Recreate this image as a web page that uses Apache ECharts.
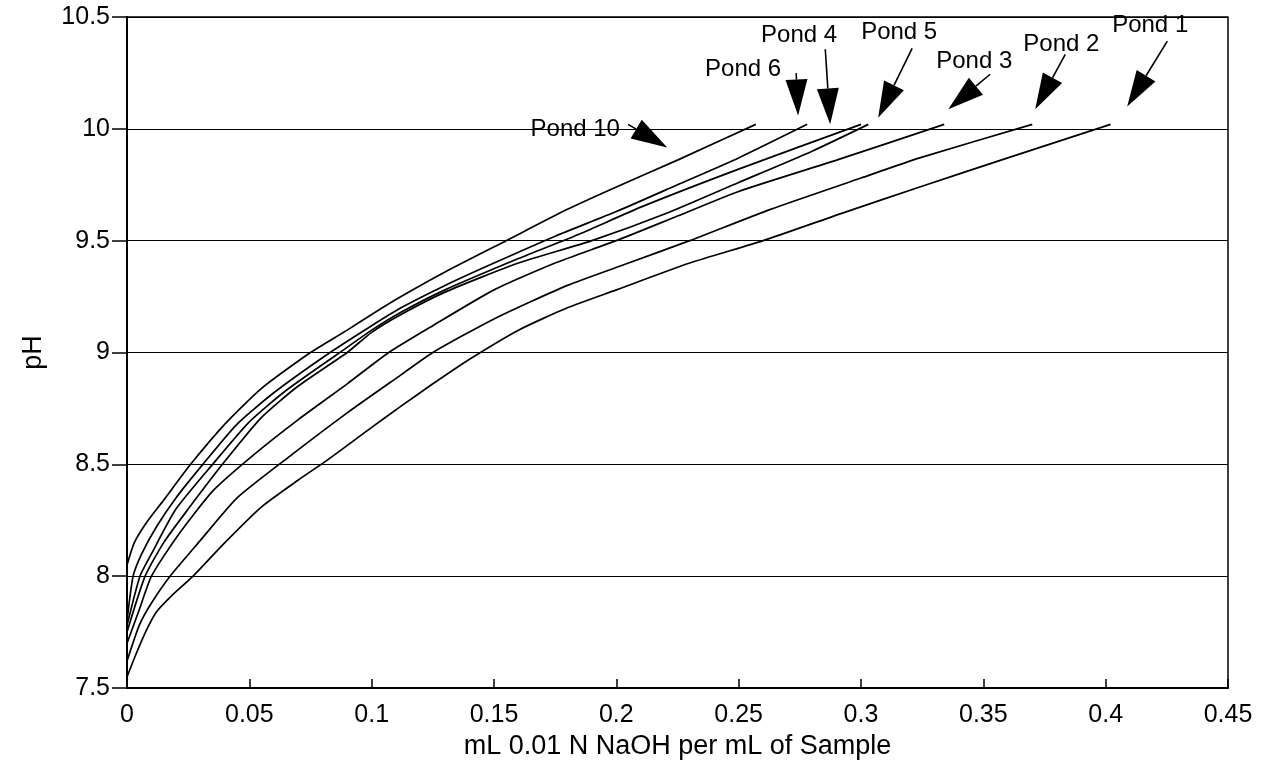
<!DOCTYPE html>
<html>
<head>
<meta charset="utf-8">
<script src="https://cdn.jsdelivr.net/npm/echarts@6/dist/echarts.min.js"></script>
<style>
  html, body { margin: 0; padding: 0; background: #fff; }
  #chart { width: 1277px; height: 760px; }
</style>
</head>
<body>
<div id="chart"></div>
<script>
// titration curves: [mL NaOH per mL, pH]
const pond10 = [[0, 8.05], [0.003, 8.15], [0.008, 8.24], [0.015, 8.34], [0.026, 8.5], [0.04, 8.68], [0.055, 8.84], [0.075, 9.0], [0.09, 9.1], [0.1, 9.17], [0.112, 9.25], [0.13, 9.36], [0.155, 9.5], [0.18, 9.64], [0.2, 9.74], [0.225, 9.86], [0.257, 10.02]];
const pond6 = [[0, 7.8], [0.0025, 8.0], [0.006, 8.1], [0.012, 8.22], [0.02, 8.35], [0.031, 8.5], [0.045, 8.68], [0.06, 8.82], [0.083, 9.0], [0.1, 9.12], [0.112, 9.2], [0.13, 9.3], [0.15, 9.4], [0.175, 9.52], [0.2, 9.63], [0.225, 9.75], [0.25, 9.87], [0.278, 10.02]];
const pond4 = [[0, 7.78], [0.0053, 8.0], [0.01, 8.1], [0.02, 8.3], [0.035, 8.5], [0.05, 8.69], [0.065, 8.83], [0.087, 9.0], [0.1, 9.1], [0.112, 9.18], [0.13, 9.28], [0.16, 9.42], [0.185, 9.53], [0.21, 9.65], [0.25, 9.82], [0.3, 10.02]];
const pond5 = [[0, 7.75], [0.0074, 8.0], [0.015, 8.15], [0.025, 8.3], [0.039, 8.5], [0.055, 8.71], [0.07, 8.85], [0.09, 9.0], [0.1, 9.09], [0.112, 9.17], [0.13, 9.27], [0.16, 9.4], [0.19, 9.5], [0.22, 9.62], [0.25, 9.76], [0.28, 9.9], [0.303, 10.02]];
const pond3 = [[0, 7.7], [0.005, 7.85], [0.01, 8.0], [0.02, 8.17], [0.035, 8.38], [0.0515, 8.54], [0.07, 8.7], [0.09, 8.86], [0.107, 9.0], [0.125, 9.12], [0.15, 9.28], [0.175, 9.4], [0.2, 9.5], [0.225, 9.61], [0.25, 9.72], [0.29, 9.86], [0.334, 10.02]];
const pond2 = [[0, 7.62], [0.005, 7.78], [0.01, 7.88], [0.0176, 8.0], [0.03, 8.16], [0.045, 8.35], [0.0658, 8.53], [0.09, 8.73], [0.112, 8.9], [0.125, 9.0], [0.15, 9.15], [0.18, 9.3], [0.205, 9.4], [0.23, 9.5], [0.263, 9.64], [0.3, 9.78], [0.324, 9.87], [0.37, 10.02]];
const pond1 = [[0, 7.55], [0.004, 7.66], [0.008, 7.76], [0.012, 7.84], [0.018, 7.91], [0.027, 8.0], [0.04, 8.15], [0.055, 8.31], [0.07, 8.43], [0.082, 8.52], [0.1, 8.665], [0.112, 8.76], [0.125, 8.86], [0.14, 8.97], [0.16, 9.1], [0.18, 9.2], [0.2, 9.28], [0.23, 9.4], [0.26, 9.5], [0.2915, 9.62], [0.324, 9.74], [0.36, 9.87], [0.402, 10.02]];

const seriesNames = ["Pond 10", "Pond 6", "Pond 4", "Pond 5", "Pond 3", "Pond 2", "Pond 1"];
const seriesData = [pond10, pond6, pond4, pond5, pond3, pond2, pond1];

// callouts: label centre, arrow tail, arrow tip (data coords)
const calloutText = ["Pond 1", "Pond 2", "Pond 3", "Pond 5", "Pond 4", "Pond 6", "Pond 10"];
const calloutLabel = [[0.4182, 10.463], [0.3819, 10.378], [0.3463, 10.302], [0.3156, 10.43], [0.2747, 10.419], [0.2518, 10.266], [0.1832, 9.998]];
const calloutTail = [[0.4252, 10.392], [0.3835, 10.333], [0.3528, 10.244], [0.3209, 10.36], [0.2854, 10.356], [0.2735, 10.249], [0.2048, 10.02]];
const calloutTip = [[0.4088, 10.1], [0.3712, 10.087], [0.3357, 10.087], [0.307, 10.05], [0.2874, 10.02], [0.2743, 10.06], [0.2208, 9.917]];

const font = "Liberation Sans, Arial, Helvetica, sans-serif";

const chart = echarts.init(document.getElementById("chart"));

function setOptions() {
  chart.setOption({
    animation: false,
    backgroundColor: "#fff",
    grid: {
      left: 127,
      right: 49,
      top: 17,
      bottom: 72,
      outerBoundsMode: "none",
      containLabel: false,
      show: true,
      borderColor: "#000",
      borderWidth: 1.5,
    },
    xAxis: {
      type: "value",
      min: 0,
      max: 0.45,
      interval: 0.05,
      name: "mL 0.01 N NaOH per mL of Sample",
      nameLocation: "middle",
      nameGap: 44,
      nameTextStyle: { color: "#000", fontSize: 27, fontFamily: font },
      axisLine: { show: true, onZero: false, lineStyle: { color: "#000", width: 2 } },
      axisTick: { show: true, inside: true, length: 9, lineStyle: { color: "#000", width: 1.5 } },
      axisLabel: { color: "#000", fontSize: 25, fontFamily: font, margin: 15 },
      splitLine: { show: false },
    },
    yAxis: {
      type: "value",
      min: 7.5,
      max: 10.5,
      interval: 0.5,
      name: "pH",
      nameLocation: "middle",
      nameGap: 80,
      nameRotate: 90,
      nameTextStyle: { color: "#000", fontSize: 27, fontFamily: font },
      axisLine: { show: true, onZero: false, lineStyle: { color: "#000", width: 2 } },
      axisTick: { show: true, length: 15, lineStyle: { color: "#000", width: 1.5 } },
      axisLabel: { color: "#000", fontSize: 25, fontFamily: font, margin: 17 },
      splitLine: { show: true, lineStyle: { color: "#000", width: 1.2 } },
    },
    series: seriesData.map((d, i) => ({
      name: seriesNames[i],
      type: "line",
      data: d,
      smooth: 0.2,
      showSymbol: false,
      lineStyle: { color: "#000", width: 1.7 },
    })),
  });
}

function drawCallouts() {
  const g = [];
  const L = 36, W = 11;
  for (let i = 0; i < calloutText.length; i++) {
    const tail = chart.convertToPixel({ gridIndex: 0 }, calloutTail[i]);
    const tip = chart.convertToPixel({ gridIndex: 0 }, calloutTip[i]);
    const lab = chart.convertToPixel({ gridIndex: 0 }, calloutLabel[i]);
    let dx = tip[0] - tail[0], dy = tip[1] - tail[1];
    const len = Math.sqrt(dx * dx + dy * dy);
    dx /= len; dy /= len;
    const base = [tip[0] - dx * L, tip[1] - dy * L];
    const left = [base[0] - dy * W, base[1] + dx * W];
    const right = [base[0] + dy * W, base[1] - dx * W];
    if (len > L) {
      g.push({ type: "line", shape: { x1: tail[0], y1: tail[1], x2: base[0], y2: base[1] }, style: { stroke: "#000", lineWidth: 1.6 } });
    }
    g.push({ type: "polygon", shape: { points: [tip, left, right] }, style: { fill: "#000" } });
    g.push({ type: "text", x: lab[0], y: lab[1], style: { text: calloutText[i], font: "24px " + font, fill: "#000", align: "center", verticalAlign: "middle" } });
  }
  chart.setOption({ graphic: g });
}

setOptions();
drawCallouts();
</script>
</body>
</html>
